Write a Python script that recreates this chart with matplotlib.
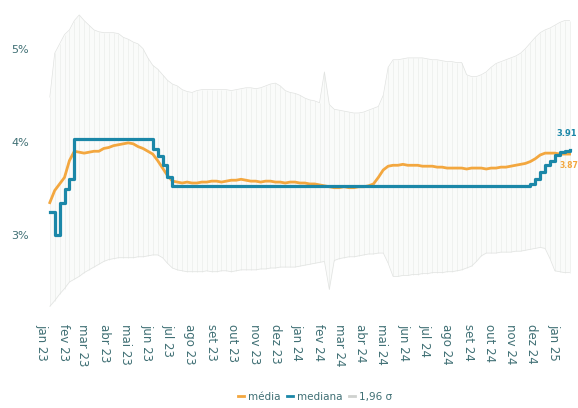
import matplotlib
matplotlib.use("Agg")
import matplotlib.pyplot as plt
import pandas as pd

# Weekly survey dates
dates = pd.date_range("2023-01-13", "2025-01-24", freq="W-FRI")

# Median of forecasts (%)
mediana = [3.25, 3.0, 3.35, 3.5, 3.6] + [4.03] * 16 + [3.92, 3.85, 3.75, 3.62] \
    + [3.53] * 73 + [3.55, 3.6, 3.68, 3.75, 3.8, 3.86, 3.89, 3.9, 3.91]

# Mean of forecasts (%)
media = [3.35, 3.48, 3.55, 3.62, 3.8, 3.9, 3.89, 3.88, 3.89, 3.9,
         3.9, 3.93, 3.94, 3.96, 3.97, 3.98, 3.99, 3.98, 3.95, 3.93,
         3.9, 3.87, 3.8, 3.72, 3.64, 3.58, 3.57, 3.56, 3.57, 3.56,
         3.56, 3.57, 3.57, 3.58, 3.58, 3.57, 3.58, 3.59, 3.59, 3.6,
         3.59, 3.58, 3.58, 3.57, 3.58, 3.58, 3.57, 3.57, 3.56, 3.57,
         3.57, 3.56, 3.56, 3.55, 3.55, 3.54, 3.53, 3.52, 3.51, 3.51,
         3.52, 3.51, 3.51, 3.52, 3.52, 3.53, 3.55, 3.62, 3.7, 3.74,
         3.75, 3.75, 3.76, 3.75, 3.75, 3.75, 3.74, 3.74, 3.74, 3.73,
         3.73, 3.72, 3.72, 3.72, 3.72, 3.71, 3.72, 3.72, 3.72, 3.71,
         3.72, 3.72, 3.73, 3.73, 3.74, 3.75, 3.76, 3.77, 3.79, 3.82,
         3.86, 3.88, 3.88, 3.88, 3.87, 3.87, 3.87]

# Upper bound of the 1.96 sigma band (%)
banda_sup = [4.48, 4.95, 5.05, 5.15, 5.2, 5.3, 5.36, 5.3, 5.25, 5.2,
             5.18, 5.17, 5.17, 5.17, 5.16, 5.12, 5.1, 5.07, 5.05, 5.0,
             4.9, 4.82, 4.78, 4.72, 4.66, 4.62, 4.6, 4.56, 4.54, 4.53,
             4.55, 4.56, 4.56, 4.56, 4.56, 4.56, 4.56, 4.55, 4.56, 4.57,
             4.58, 4.58, 4.57, 4.58, 4.6, 4.62, 4.63, 4.6, 4.55, 4.53,
             4.52, 4.5, 4.47, 4.45, 4.44, 4.42, 4.75, 4.4, 4.35, 4.34,
             4.33, 4.32, 4.31, 4.31, 4.32, 4.34, 4.36, 4.38, 4.5, 4.8,
             4.88, 4.88, 4.89, 4.9, 4.9, 4.9, 4.9, 4.89, 4.88, 4.88,
             4.87, 4.86, 4.86, 4.85, 4.85, 4.72, 4.7, 4.7, 4.72, 4.75,
             4.8, 4.84, 4.86, 4.88, 4.9, 4.92, 4.95, 5.0, 5.06, 5.12,
             5.17, 5.2, 5.22, 5.25, 5.28, 5.3, 5.3]

# Lower bound of the 1.96 sigma band (%)
banda_inf = [2.24, 2.3, 2.37, 2.43, 2.5, 2.53, 2.56, 2.6, 2.63, 2.66,
             2.69, 2.72, 2.74, 2.75, 2.76, 2.76, 2.76, 2.76, 2.77, 2.77,
             2.78, 2.79, 2.79, 2.76, 2.7, 2.65, 2.63, 2.62, 2.61, 2.61,
             2.61, 2.61, 2.62, 2.61, 2.61, 2.62, 2.62, 2.61, 2.62, 2.63,
             2.63, 2.63, 2.63, 2.64, 2.64, 2.65, 2.65, 2.66, 2.66, 2.66,
             2.66, 2.67, 2.68, 2.69, 2.7, 2.71, 2.72, 2.42, 2.73, 2.75,
             2.76, 2.77, 2.77, 2.78, 2.79, 2.8, 2.8, 2.81, 2.81, 2.7,
             2.56, 2.56, 2.57, 2.57, 2.58, 2.58, 2.59, 2.59, 2.6, 2.6,
             2.6, 2.61, 2.61, 2.62, 2.63, 2.65, 2.67, 2.72, 2.78, 2.81,
             2.81, 2.81, 2.82, 2.82, 2.82, 2.83, 2.83, 2.84, 2.85, 2.86,
             2.87, 2.86, 2.75, 2.62, 2.61, 2.6, 2.6]

meses = ["jan", "fev", "mar", "abr", "mai", "jun", "jul", "ago",
         "set", "out", "nov", "dez"]
yticks = [3, 4, 5]

cor_media = "#f3a73f"
cor_mediana = "#1b87a8"
cor_banda = "#e0e2e0"
cor_texto = "#3f6f74"

fig = plt.figure(figsize=(5.78, 4.08), dpi=100)
ax = fig.add_axes([40 / 578, 98 / 408, 538 / 578, 310 / 408])

# 1.96 sigma band: faint fill with vertical strokes
ax.fill_between(dates, banda_inf, banda_sup, color="#fafbfa", lw=0, zorder=1)
ax.vlines(dates, banda_inf, banda_sup, color="#eef0ee", lw=0.6, zorder=1.5)
ax.plot(dates, banda_sup, color=cor_banda, lw=0.5, zorder=2)
ax.plot(dates, banda_inf, color=cor_banda, lw=0.5, zorder=2)

ax.plot(dates, media, color=cor_media, lw=2.0, zorder=3)
ax.plot(dates, mediana, color=cor_mediana, lw=2.3, zorder=4,
        drawstyle="steps-post")

# Last-value labels
ax.annotate(f"{mediana[-1]:.2f}", (dates[-1], mediana[-1]), xytext=(-2, 9),
            textcoords="offset points", color=cor_mediana, fontsize=6,
            fontweight="bold", ha="center", va="bottom", annotation_clip=False)
ax.annotate(f"{media[-1]:.2f}", (dates[-1], media[-1]), xytext=(6, -5),
            textcoords="offset points", color=cor_media, fontsize=5.5,
            fontweight="bold", ha="right", va="top", annotation_clip=False)

ax.set_xlim(pd.Timestamp("2022-12-30"), pd.Timestamp("2025-02-05"))
ax.set_ylim(2.2, 5.52)

ticks = pd.date_range("2023-01-01", "2025-01-01", freq="MS")
ax.set_xticks(ticks)
ax.set_xticklabels([f"{meses[t.month - 1]} {t.year % 100}" for t in ticks],
                   rotation=-90, fontsize=8.5, color=cor_texto)
ax.set_yticks(yticks)
ax.set_yticklabels([f"{v}%" for v in yticks], fontsize=8, color=cor_texto)
ax.tick_params(axis="both", length=0)
ax.tick_params(axis="x", pad=10)
ax.tick_params(axis="y", pad=8)
for s in ax.spines.values():
    s.set_visible(False)

handles = [plt.Line2D([], [], color=cor_media, lw=2),
           plt.Line2D([], [], color=cor_mediana, lw=2),
           plt.Line2D([], [], color="#cfd2cf", lw=2)]
fig.legend(handles, ["média", "mediana", "1,96 σ"], loc="center",
           bbox_to_anchor=(315 / 578, 1 - 397 / 408), ncol=3, frameon=False,
           fontsize=7.5, handlelength=0.6, handletextpad=0.4, columnspacing=0.6,
           labelcolor=cor_texto)

fig.savefig("out.png", dpi=100, facecolor="white")
